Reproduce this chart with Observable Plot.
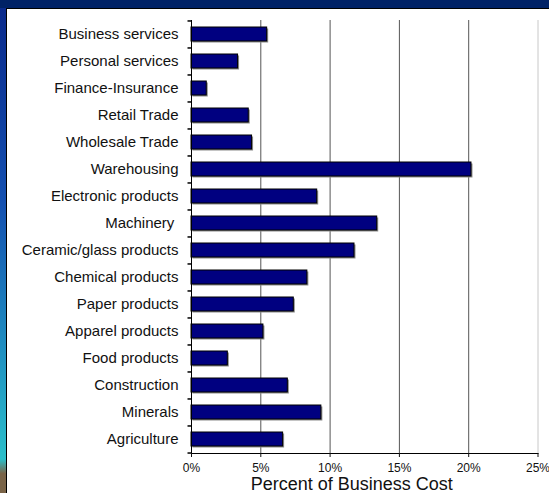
<!DOCTYPE html>
<html><head><meta charset="utf-8">
<script src="https://cdn.jsdelivr.net/npm/d3@7"></script>
<script src="https://cdn.jsdelivr.net/npm/@observablehq/plot@0.6"></script>
<style>
html,body{margin:0;padding:0;background:#fff;}
body{width:549px;height:493px;overflow:hidden;position:relative;font-family:"Liberation Sans",Arial,sans-serif;}
#top{position:absolute;left:0;top:0;width:549px;height:8px;background:#002266;}
#left{position:absolute;left:0;top:8px;width:6px;height:485px;background:linear-gradient(to bottom,#0a2a8c 0%,#1450b0 40%,#1f8ec0 70%,#2bbfca 93%,#7a6448 96%,#7a6448 100%);}
#panel{position:absolute;left:6px;top:8px;width:543px;height:485px;box-sizing:border-box;background:#fff;border-left:1px solid #000;border-top:1px solid #000;overflow:hidden;}
#panel svg{display:block;}
svg text{white-space:pre;}
</style>
</head><body>
<div id="top"></div>
<div id="left"></div>
<div id="panel"></div>
<script>
const categories = ["Business services","Personal services","Finance-Insurance","Retail Trade","Wholesale Trade","Warehousing","Electronic products","Machinery ","Ceramic/glass products","Chemical products","Paper products","Apparel products","Food products","Construction","Minerals","Agriculture"];
const values = [5.46,3.36,1.1,4.13,4.37,20.2,9.07,13.4,11.76,8.36,7.38,5.19,2.62,6.95,9.37,6.61];
const xTicks = [0,5,10,15,20,25];
const gridTicks = [5,10,15,20];
const xLabel = "Percent of Business Cost";

const data = categories.map((c,i)=>({category:c, value:values[i]}));

const W = 542, H = 484, mL = 184, mR = 11.5, mT = 11, mB = 40;
const step = (H - mT - mB) / categories.length;
const hTick = {draw(ctx){ ctx.moveTo(-2,0); ctx.lineTo(2,0); }};

const chart = Plot.plot({
  width: W, height: H,
  marginLeft: mL, marginRight: mR, marginTop: mT, marginBottom: mB,
  style: {fontFamily: "'Liberation Sans', Arial, sans-serif", background: "transparent", color: "#111"},
  x: {domain: [0, 25]},
  y: {domain: categories, paddingInner: 0.5, paddingOuter: 0.25},
  marks: [
    Plot.ruleX(gridTicks, {x: d => d, stroke: "#555", strokeWidth: 1}),
    Plot.ruleX(xTicks.slice(-1), {x: d => d, stroke: "#c8c8c8", strokeWidth: 1}),
    Plot.barX(data, {x: "value", y: "category", fill: "#8a8a8a", dx: 1.5, dy: 1.5}),
    Plot.barX(data, {x: "value", y: "category", fill: "#000080", stroke: "#000", strokeWidth: 1}),
    Plot.frame({anchor: "left", stroke: "#000"}),
    Plot.frame({anchor: "bottom", stroke: "#000"}),
    Plot.dot(categories, {y: d => d, frameAnchor: "left", dy: -step/2, dx: -2, symbol: hTick, r: 2, stroke: "#000", fill: "none"}),
    Plot.dot(categories.slice(-1), {y: d => d, frameAnchor: "left", dy: step/2, dx: -2, symbol: hTick, r: 2, stroke: "#000", fill: "none"}),
    Plot.axisY({tickSize: 0, tickPadding: 13, fontSize: 15, label: null, fill: "#111"}),
    Plot.axisX({ticks: xTicks, tickFormat: d => d + "%", tickSize: 4, tickPadding: 6, fontSize: 12, label: null, fill: "#111"}),
    Plot.text([xLabel], {text: d => d, frameAnchor: "bottom", dy: 36, dx: -13, fontSize: 18, fill: "#111"})
  ]
});
document.getElementById("panel").appendChild(chart);
</script>
</body></html>
